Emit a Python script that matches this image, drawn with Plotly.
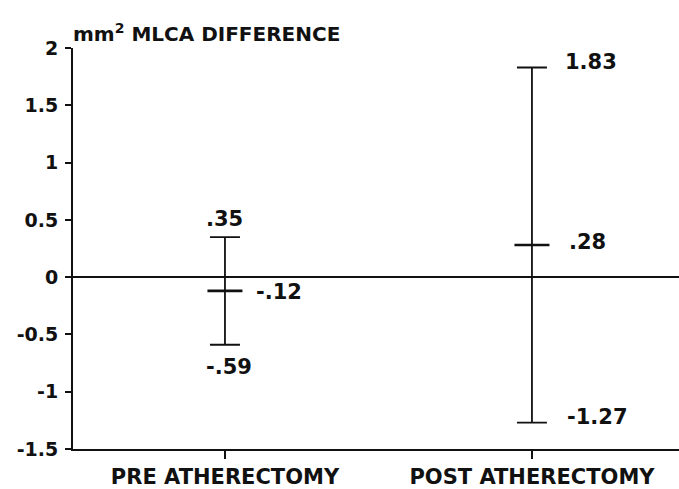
import plotly.graph_objects as go

# Pre/post atherectomy MLCA difference: mean with range limits (mm^2)
groups = ["PRE ATHERECTOMY", "POST ATHERECTOMY"]
means = [-0.12, 0.28]
uppers = [0.35, 1.83]
lowers = [-0.59, -1.27]

y_ticks = [2, 1.5, 1, 0.5, 0, -0.5, -1, -1.5]
y_tick_text = ["2", "1.5", "1", "0.5", "0", "-0.5", "-1", "-1.5"]

FONT = "DejaVu Sans, Liberation Sans, Arial, sans-serif"
INK = "#111111"


def fmt(v):
    """Format like '.35' / '-.12' / '1.83' (no leading zero)."""
    s = f"{abs(v):.2f}"
    if s.startswith("0"):
        s = s[1:]
    return ("-" if v < 0 else "") + s


def bold(t):
    return f"<b>{t}</b>"


xpos = list(range(len(groups)))

fig = go.Figure()
fig.add_trace(go.Scatter(
    x=xpos,
    y=means,
    mode="markers",
    marker=dict(symbol="line-ew", size=25, line=dict(width=2.6, color=INK)),
    error_y=dict(
        type="data",
        symmetric=False,
        array=[u - m for u, m in zip(uppers, means)],
        arrayminus=[m - l for m, l in zip(means, lowers)],
        width=15,
        thickness=1.8,
        color=INK,
    ),
    showlegend=False,
    hoverinfo="skip",
))

annotations = []
label_font = dict(family=FONT, size=21, color=INK)
# PRE group: upper above, mean to the right, lower below
annotations.append(dict(x=xpos[0], y=uppers[0], text=bold(fmt(uppers[0])), showarrow=False,
                        xanchor="center", yanchor="bottom", yshift=4, font=label_font))
annotations.append(dict(x=xpos[0], y=means[0], text=bold(fmt(means[0])), showarrow=False,
                        xanchor="left", yanchor="middle", xshift=29, yshift=-1, font=label_font))
annotations.append(dict(x=xpos[0], y=lowers[0], text=bold(fmt(lowers[0])), showarrow=False,
                        xanchor="center", yanchor="top", xshift=4, yshift=-8, font=label_font))
# POST group: all labels to the right
for v, dx, dy in ((uppers[1], 31, 5), (means[1], 35, 3), (lowers[1], 33, 6)):
    annotations.append(dict(x=xpos[1], y=v, text=bold(fmt(v)), showarrow=False,
                            xanchor="left", yanchor="middle", xshift=dx, yshift=dy, font=label_font))

# axis title above the y axis
annotations.append(dict(x=0, y=1, xref="paper", yref="paper", xanchor="left", yanchor="bottom",
                        xshift=-2, yshift=0, text="<b>mm<sup>2</sup> MLCA DIFFERENCE</b>",
                        showarrow=False, font=dict(family=FONT, size=20, color=INK)))

fig.update_layout(
    width=679,
    height=489,
    margin=dict(l=73, r=0, t=48, b=36),
    paper_bgcolor="white",
    plot_bgcolor="white",
    font=dict(family=FONT, size=20, color=INK),
    annotations=annotations,
    xaxis=dict(
        range=[-0.495, 1.479],
        tickmode="array",
        tickvals=xpos,
        ticktext=[bold(g) for g in groups],
        ticks="outside",
        ticklen=8,
        tickwidth=1.6,
        tickcolor=INK,
        showline=True,
        linecolor=INK,
        linewidth=2,
        showgrid=False,
        zeroline=False,
        tickfont=dict(family=FONT, size=21, color=INK),
    ),
    yaxis=dict(
        range=[-1.5, 2],
        tickmode="array",
        tickvals=y_ticks,
        ticktext=[bold(t) for t in y_tick_text],
        ticks="outside",
        ticklen=6,
        tickwidth=1.6,
        tickcolor=INK,
        ticklabelstandoff=3,
        showline=True,
        linecolor=INK,
        linewidth=2,
        showgrid=False,
        zeroline=True,
        zerolinecolor=INK,
        zerolinewidth=1.5,
        tickfont=dict(family=FONT, size=19, color=INK),
    ),
)

fig.write_html("out.html")
